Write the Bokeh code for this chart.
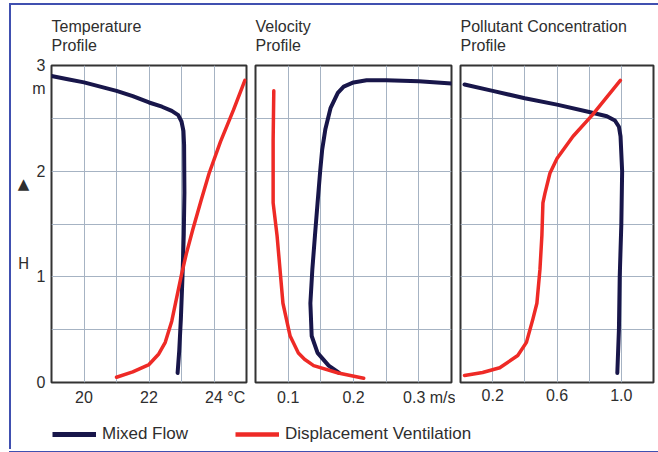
from bokeh.plotting import figure
from bokeh.layouts import row, column
from bokeh.models import FixedTicker, Legend, LegendItem, Range1d, Div
from bokeh.embed import file_html
from bokeh.resources import INLINE

# ---------------- data ----------------
heights_ticks = [0, 1, 2, 3]
height_labels = ["0", "1", "2", "\u00a0\n3\nm"]
height_grid = [0.5, 1.0, 1.5, 2.0, 2.5]
height_axis_label = "▲\n\u00a0\n\u00a0\n\u00a0\nH"

# Temperature profile (deg C, height m)
temp_mixed_t = [19.0, 19.5, 20.0, 20.5, 21.0, 21.5, 22.0, 22.4, 22.7, 22.9, 23.0, 23.06, 23.08, 23.09, 23.07, 23.03, 22.98, 22.93, 22.88]
temp_mixed_h = [2.90, 2.87, 2.84, 2.80, 2.76, 2.71, 2.65, 2.61, 2.57, 2.53, 2.47, 2.38, 2.25, 1.80, 1.40, 1.00, 0.60, 0.30, 0.09]
temp_displ_t = [21.0, 21.5, 22.0, 22.3, 22.5, 22.7, 22.85, 23.0, 23.15, 23.35, 23.6, 23.85, 24.2, 24.6, 24.95]
temp_displ_h = [0.05, 0.10, 0.17, 0.27, 0.38, 0.58, 0.80, 1.02, 1.22, 1.45, 1.72, 1.98, 2.28, 2.58, 2.86]

# Velocity profile (m/s, height m)
vel_mixed_v = [0.350, 0.300, 0.250, 0.220, 0.200, 0.185, 0.176, 0.165, 0.157, 0.152, 0.149, 0.145, 0.141, 0.137, 0.134, 0.136, 0.145, 0.162, 0.178]
vel_mixed_h = [2.83, 2.85, 2.86, 2.86, 2.84, 2.80, 2.74, 2.60, 2.40, 2.20, 2.00, 1.70, 1.39, 1.07, 0.75, 0.44, 0.28, 0.16, 0.09]
vel_displ_v = [0.078, 0.077, 0.077, 0.083, 0.0875, 0.092, 0.103, 0.1156, 0.125, 0.139, 0.1766, 0.2156]
vel_displ_h = [2.76, 2.30, 1.70, 1.39, 1.07, 0.75, 0.44, 0.28, 0.22, 0.16, 0.09, 0.04]

# Pollutant concentration profile (relative, height m)
pol_mixed_c = [0.025, 0.2, 0.4, 0.6, 0.8, 0.91, 0.96, 0.985, 0.995, 1.005, 1.0, 0.99, 0.985, 0.975]
pol_mixed_h = [2.82, 2.76, 2.69, 2.63, 2.56, 2.52, 2.48, 2.42, 2.33, 2.00, 1.50, 1.00, 0.50, 0.09]
pol_displ_c = [0.994, 0.819, 0.70, 0.60, 0.556, 0.525, 0.5125, 0.506, 0.494, 0.475, 0.45, 0.41, 0.356, 0.244, 0.1375, 0.025]
pol_displ_h = [2.86, 2.53, 2.33, 2.12, 1.98, 1.79, 1.70, 1.39, 1.07, 0.75, 0.60, 0.38, 0.255, 0.14, 0.095, 0.066]

titles = ["Temperature\nProfile", "Velocity\nProfile", "Pollutant Concentration\nProfile"]
x_ranges = [(19, 25), (0.05, 0.35), (0.0, 1.2)]
x_grids = [[20, 21, 22, 23, 24], [0.1, 0.15, 0.2, 0.25, 0.3], [0.2, 0.4, 0.6, 0.8, 1.0]]
x_ticks = [[20, 22, 24], [0.1, 0.2, 0.3], [0.2, 0.6, 1.0]]
NB = "\u00a0"
x_tick_labels = [["20", "22", NB * 5 + "24" + NB + "°C"],
                 ["0.1", "0.2", NB * 7 + "0.3" + NB + "m/s"],
                 ["0.2", "0.6", "1.0"]]
series_names = ["Mixed Flow", "Displacement Ventilation"]

# ---------------- style ----------------
NAVY = "#18164a"
RED = "#ee2a26"
GRID = "#a6b3c3"
TEXT = "#2e2e2e"
FONT = "Liberation Sans"
BORDER = "#4050b0"

frame_ws = [195, 196, 193]
mb_lefts = [40, 5, 5]
mb_rights = [4, 4, 5]

line_data = [
    (temp_mixed_t, temp_mixed_h, temp_displ_t, temp_displ_h),
    (vel_mixed_v, vel_mixed_h, vel_displ_v, vel_displ_h),
    (pol_mixed_c, pol_mixed_h, pol_displ_c, pol_displ_h),
]

panels = []
for i in range(3):
    p = figure(frame_width=frame_ws[i], frame_height=317,
               x_range=Range1d(*x_ranges[i]), y_range=Range1d(0, 3),
               toolbar_location=None, output_backend="svg",
               min_border_left=mb_lefts[i], min_border_right=mb_rights[i],
               min_border_top=58, min_border_bottom=30,
               y_axis_location="left" if i == 0 else None,
               title=titles[i])
    p.title.text_font = FONT
    p.title.text_font_size = "16px"
    p.title.text_font_style = "normal"
    p.title.text_color = TEXT
    p.title.align = "left"
    p.title.standoff = 22
    p.title.text_line_height = 1.13

    p.outline_line_color = "#333333"
    p.outline_line_width = 2
    p.background_fill_color = "white"
    p.border_fill_color = "white"

    p.xgrid.ticker = FixedTicker(ticks=x_grids[i])
    p.ygrid.ticker = FixedTicker(ticks=height_grid)
    p.grid.grid_line_color = GRID
    p.grid.grid_line_width = 1

    xa = p.xaxis[0]
    xa.ticker = FixedTicker(ticks=x_ticks[i])
    xa.major_label_overrides = dict(zip(x_ticks[i], x_tick_labels[i]))
    xa.axis_line_color = None
    xa.major_tick_line_color = None
    xa.minor_tick_line_color = None
    xa.major_label_standoff = 0
    xa.major_label_text_font = FONT
    xa.major_label_text_font_size = "16px"
    xa.major_label_text_color = TEXT

    if i == 0:
        ya = p.yaxis[0]
        ya.ticker = FixedTicker(ticks=heights_ticks)
        ya.major_label_overrides = dict(zip(heights_ticks, height_labels))
        ya.axis_line_color = None
        ya.major_tick_line_color = None
        ya.minor_tick_line_color = None
        ya.major_label_standoff = 0
        ya.major_label_text_font = FONT
        ya.major_label_text_font_size = "16px"
        ya.major_label_text_line_height = 1.35
        ya.major_label_text_color = TEXT
        ya.axis_label = height_axis_label
        ya.axis_label_orientation = "horizontal"
        ya.axis_label_standoff = 0
        ya.axis_label_text_font = "DejaVu Sans"
        ya.axis_label_text_font_size = "15px"
        ya.axis_label_text_font_style = "normal"
        ya.axis_label_text_line_height = 1.11
        ya.axis_label_text_color = TEXT

    mx, mh, dx, dh = line_data[i]
    p.line(mx, mh, line_color=NAVY, line_width=4, line_join="round", line_cap="round")
    p.line(dx, dh, line_color=RED, line_width=3.5, line_join="round", line_cap="round")
    panels.append(p)

body_w = sum(frame_ws) + sum(mb_lefts) + sum(mb_rights)   # 647

# legend strip (its sample lines use the data but lie outside its view)
lg = figure(width=body_w, height=39, x_range=(0, 1), y_range=(0, 1),
            toolbar_location=None, output_backend="svg", min_border=0)
lg.axis.visible = False
lg.grid.visible = False
lg.outline_line_color = None
r_m = lg.line(temp_mixed_t, temp_mixed_h, line_color=NAVY, line_width=5)
r_d = lg.line(temp_displ_t, temp_displ_h, line_color=RED, line_width=4.5)
legend = Legend(items=[LegendItem(label=series_names[0], renderers=[r_m]),
                       LegendItem(label=series_names[1], renderers=[r_d])],
                orientation="horizontal", location=(41, 7),
                padding=0, margin=0, spacing=47, label_standoff=6,
                glyph_width=44, glyph_height=14, label_height=14,
                border_line_color=None, background_fill_alpha=0,
                label_text_font=FONT, label_text_font_size="17px",
                label_text_color=TEXT)
lg.add_layout(legend)


def block(w, h, color=None):
    st = {"padding": "0", "margin": "0"}
    if color:
        st["background-color"] = color
    return Div(text="", width=w, height=h, styles=st)


body = column(row(*panels), lg)          # 647 x 444
layout = column(
    block(658, 3),
    row(block(9, 2), block(649, 2, BORDER)),
    row(block(9, 444), block(2, 444, BORDER), body),
    row(block(9, 2), block(649, 2, BORDER)),
)

open("out.html", "w").write(file_html(layout, INLINE))
